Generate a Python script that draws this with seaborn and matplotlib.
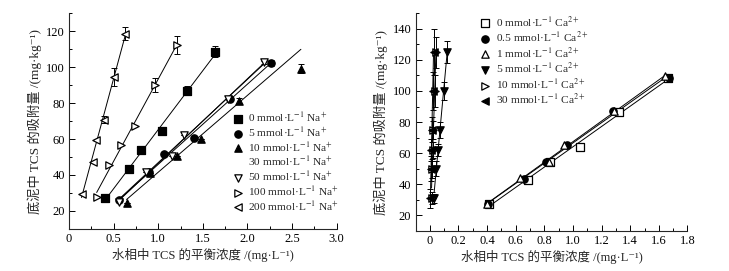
import numpy as np
import seaborn as sns
import matplotlib.pyplot as plt
from matplotlib.ticker import MultipleLocator, FuncFormatter

# ---- left panel: Na+ series ----
na0_x = [0.40, 0.675, 0.81, 1.045, 1.32, 1.64]
na0_y = [27.1, 43.3, 54.1, 64.2, 86.8, 108.4]
na0_e = [0, 0, 0, 1.5, 2.5, 3.0]
na5_x = [0.565, 0.90, 1.07, 1.40, 1.80, 2.26]
na5_y = [25.9, 41.5, 51.8, 60.8, 82.0, 102.3]
na5_e = [0, 0, 0, 0, 0, 1.5]
na10_x = [0.645, 0.91, 1.215, 1.485, 1.91, 2.60]
na10_y = [24.6, 41.1, 50.3, 60.2, 81.2, 98.9]
na10_e = [0, 0, 0, 0, 1.5, 2.5]
na30_x = [0.56, 0.87, 1.10, 1.30, 1.76, 2.22]
na30_y = [25.5, 41.5, 51.5, 61.5, 82.4, 102.6]
na50_x = [0.56, 0.86, 1.15, 1.29, 1.78, 2.19]
na50_y = [25.1, 41.7, 50.8, 62.2, 82.4, 102.6]
na50_e = [0, 0, 0, 0, 0, 1.0]
na100_x = [0.31, 0.45, 0.58, 0.74, 0.96, 1.21]
na100_y = [27.9, 45.7, 56.7, 67.3, 90.1, 112.3]
na100_e = [0, 0, 0, 0, 4.0, 5.0]
na200_x = [0.14, 0.265, 0.30, 0.395, 0.50, 0.63]
na200_y = [29.6, 47.2, 59.4, 70.8, 94.7, 118.5]
na200_e = [0, 0, 0, 2.0, 5.0, 3.5]
na10_fit_n = 5  # outlier at 2.6 left out of the fit

# ---- right panel: Ca2+ series ----
ca0_x = [0.41, 0.685, 0.84, 1.05, 1.325, 1.665]
ca0_y = [27.0, 43.0, 54.0, 64.2, 86.5, 108.3]
ca05_x = [0.405, 0.657, 0.81, 0.958, 1.283, 1.67]
ca05_y = [27.1, 43.5, 54.3, 65.0, 87.0, 108.5]
ca1_x = [0.40, 0.63, 0.83, 0.94, 1.29, 1.645]
ca1_y = [27.0, 43.8, 54.0, 65.5, 87.0, 109.5]
ca5_x = [0.03, 0.042, 0.058, 0.068, 0.10, 0.12]
ca5_y = [31.0, 50.0, 62.0, 75.0, 100.0, 125.0]
ca5_e = [3.0, 5.0, 4.0, 5.0, 6.0, 7.0]
ca10_x = [0.012, 0.016, 0.02, 0.022, 0.036, 0.042]
ca10_y = [31.0, 50.0, 62.0, 75.0, 100.0, 125.0]
ca10_e = [4.0, 6.0, 5.0, 6.0, 10.0, 10.0]
ca30_x = [0.004, 0.008, 0.011, 0.014, 0.02, 0.026]
ca30_y = [31.0, 50.0, 62.0, 75.0, 100.0, 125.0]
ca30_e = [6.0, 8.0, 7.0, 8.0, 12.0, 15.0]

XLABEL = "水相中 TCS 的平衡浓度 /(mg·L⁻¹)"
YLABEL = "底泥中 TCS 的吸附量 /(mg·kg⁻¹)"

sns.set_style("ticks")
plt.rcParams["font.family"] = ["Liberation Serif", "Noto Sans CJK SC",
                               "DejaVu Serif"]
plt.rcParams["mathtext.fontset"] = "stix"
plt.rcParams["axes.linewidth"] = 0.8

fig = plt.figure(figsize=(7.29, 2.71), dpi=100)
ax1 = fig.add_axes([0.0947, 0.155, 0.367, 0.797])
ax2 = fig.add_axes([0.570, 0.148, 0.373, 0.803])


def draw(ax, x, y, err, marker, fill, label, fit_n=None):
    x = np.asarray(x)
    y = np.asarray(y)
    n = len(x) if fit_n is None else fit_n
    k, b = np.polyfit(x[:n], y[:n], 1)
    xs = np.array([x.min(), x.max()])
    sns.lineplot(x=xs, y=k * xs + b, ax=ax, color="black", lw=0.7,
                 legend=False)
    if err is not None:
        ax.errorbar(x, y, yerr=err, fmt="none", ecolor="black",
                    elinewidth=0.7, capsize=2.2, capthick=0.7)
    if marker is None:
        ax.plot([], [], ls="none", marker="", label=label)
        return
    sns.scatterplot(x=x, y=y, ax=ax, marker=marker, s=28,
                    color="black" if fill else "white",
                    edgecolor="black", linewidth=0.9, label=label, zorder=3)


def na_lab(v):
    return v + r" mmol·L$^{-1}$ Na$^{+}$"


def ca_lab(v):
    return v + r" mmol·L$^{-1}$ Ca$^{2+}$"


draw(ax1, na0_x, na0_y, na0_e, "s", True, na_lab("0"))
draw(ax1, na5_x, na5_y, na5_e, "o", True, na_lab("5"))
draw(ax1, na10_x, na10_y, na10_e, "^", True, na_lab("10"), fit_n=na10_fit_n)
draw(ax1, na30_x, na30_y, None, None, False, na_lab("30"))
draw(ax1, na50_x, na50_y, na50_e, "v", False, na_lab("50"))
draw(ax1, na100_x, na100_y, na100_e, ">", False, na_lab("100"))
draw(ax1, na200_x, na200_y, na200_e, "<", False, na_lab("200"))

draw(ax2, ca0_x, ca0_y, None, "s", False, ca_lab("0"))
draw(ax2, ca05_x, ca05_y, None, "o", True, ca_lab("0.5"))
draw(ax2, ca1_x, ca1_y, None, "^", False, ca_lab("1"))
draw(ax2, ca5_x, ca5_y, ca5_e, "v", True, ca_lab("5"))
draw(ax2, ca10_x, ca10_y, ca10_e, ">", False, ca_lab("10"))
draw(ax2, ca30_x, ca30_y, ca30_e, "<", True, ca_lab("30"))

fmt = FuncFormatter(lambda v, p: "0" if abs(v) < 1e-9 else f"{v:.1f}")
ax1.set_xlim(0, 3.0)
ax1.set_ylim(10, 130)
ax1.xaxis.set_major_locator(MultipleLocator(0.5))
ax1.xaxis.set_minor_locator(MultipleLocator(0.25))
ax1.yaxis.set_major_locator(MultipleLocator(20))
ax1.yaxis.set_minor_locator(MultipleLocator(10))
ax1.xaxis.set_major_formatter(fmt)

ax2.set_xlim(-0.1, 1.8)
ax2.set_ylim(10, 150)
ax2.xaxis.set_major_locator(MultipleLocator(0.2))
ax2.xaxis.set_minor_locator(MultipleLocator(0.1))
ax2.yaxis.set_major_locator(MultipleLocator(20))
ax2.yaxis.set_minor_locator(MultipleLocator(10))
ax2.xaxis.set_major_formatter(fmt)

for ax in (ax1, ax2):
    sns.despine(ax=ax)
    ax.tick_params(which="both", direction="in", labelsize=9, width=0.7,
                   colors="black", pad=3)
    ax.tick_params(which="major", length=4)
    ax.tick_params(which="minor", length=2)
    ax.set_xlabel(XLABEL, fontsize=9, labelpad=2)
    ax.set_ylabel(YLABEL, fontsize=9.5, labelpad=3)

leg_kw = dict(frameon=False, fontsize=8.2, handlelength=0.8,
              handletextpad=0.5, borderpad=0, borderaxespad=0,
              markerscale=1.0)
ax1.legend(loc="upper left", bbox_to_anchor=(0.615, 0.55),
           labelspacing=0.08, **leg_kw)
ax2.legend(loc="upper left", bbox_to_anchor=(0.24, 0.995),
           labelspacing=0.1, **leg_kw)

fig.savefig("out.png", dpi=100)
